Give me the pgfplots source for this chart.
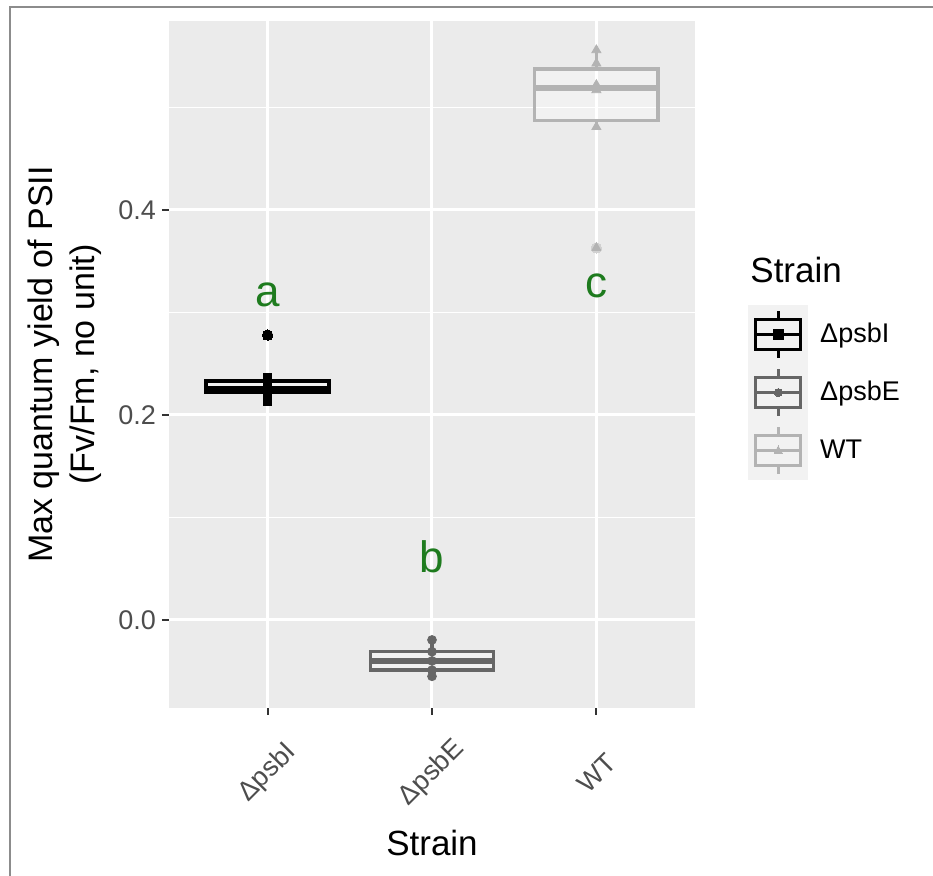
\documentclass[border=0pt]{standalone}
\usepackage{fontspec}
\setmainfont{Liberation Sans}
\usepackage{pgfplots}
\pgfplotsset{compat=1.18}
\usepgfplotslibrary{statistics}
\usepackage{xcolor}
\definecolor{panelbg}{HTML}{EBEBEB}
\definecolor{keybg}{HTML}{F2F2F2}
\definecolor{ticktext}{HTML}{4D4D4D}
\definecolor{tickmark}{HTML}{333333}
\definecolor{framegray}{HTML}{8C8C8C}
\definecolor{strainI}{HTML}{000000}
\definecolor{strainE}{HTML}{666666}
\definecolor{strainWT}{HTML}{B3B3B3}
\definecolor{lettergreen}{HTML}{1E7B1E}

\newcommand{\ticksize}{\fontsize{13.5}{16}\selectfont}

% legend key: colour, mark, mark size
\newcommand{\keyglyph}[3]{%
  \fill[keybg] (0pt,-14.33pt) rectangle (29.5pt,14.33pt);
  \draw[#1, line width=1.5pt] (14.75pt,7.5pt) -- (14.75pt,11.7pt)
                              (14.75pt,-7.5pt) -- (14.75pt,-11.7pt);
  \draw[#1, line width=1.5pt] (3.5pt,-7.5pt) rectangle (26pt,7.5pt);
  \draw[#1, line width=1.5pt] (3.5pt,0pt) -- (26pt,0pt);
  \draw[#1] plot[mark=#2, mark size=#3, mark options={fill=#1, draw=#1, line width=0pt}] coordinates {(14.75pt,0pt)};
}

\begin{document}
\begin{tikzpicture}
\useasboundingbox (0,0) rectangle (466.5pt,438pt);
\draw[framegray, line width=1pt] (5pt,0pt) -- (5pt,434.5pt) -- (466.5pt,434.5pt);

\begin{axis}[
  at={(84.5pt,84pt)}, anchor=south west,
  scale only axis, width=263pt, height=343.5pt,
  xmin=0.4, xmax=3.6, ymin=-0.0859, ymax=0.5844,
  clip=false,
  boxplot/draw direction=y,
  axis background/.style={fill=panelbg},
  axis line style={draw=none},
  xtick={1,2,3},
  xticklabels={ΔpsbI, ΔpsbE, WT},
  ytick={0,0.2,0.4},
  yticklabels={0.0,0.2,0.4},
  minor ytick={0.1,0.3,0.5},
  xmajorgrids, ymajorgrids, yminorgrids,
  major grid style={white, line width=1.5pt},
  minor grid style={white, line width=0.75pt},
  tick align=outside,
  xtick pos=bottom, ytick pos=left,
  major tick length=3.5pt, minor tick length=0pt,
  major tick style={tickmark, line width=1.1pt},
  every tick label/.append style={font=\ticksize, text=ticktext},
  xticklabel style={rotate=45, anchor=center},
  yticklabel style={xshift=0.5pt},
  xticklabel shift=29pt,
  ylabel={Max quantum yield of PSII\\(Fv/Fm, no unit)},
  ylabel style={at={(axis description cs:-0.1977,0.5)}, anchor=center, align=center,
    font=\fontsize{17}{21}\selectfont},
  xlabel={Strain},
  xlabel style={at={(axis description cs:0.5,-0.1965)}, anchor=center,
    font=\fontsize{17.5}{21}\selectfont},
  legend style={at={(axis description cs:1.1008,0.5866)}, anchor=north west,
    draw=none, fill=none, inner sep=0pt, row sep=0pt,
    font=\ticksize, cells={anchor=west},
    /tikz/every odd column/.style={column sep=4pt}},
]

% boxes
\addplot[forget plot, boxplot prepared={draw position=1, box extend=0.75, whisker extend=0,
    lower whisker=0.213, lower quartile=0.222, median=0.225,
    upper quartile=0.2334, upper whisker=0.237,
    every median/.style={line width=3.2pt}},
  draw=strainI, line width=1.8pt, fill=white, fill opacity=0.3,
  mark=*, mark size=2.6pt, mark options={fill=strainI, draw=strainI, fill opacity=1, line width=0pt}]
  table[row sep=\\, y index=0] {data\\ 0.278\\};

\addplot[forget plot, boxplot prepared={draw position=2, box extend=0.75, whisker extend=0,
    lower whisker=-0.055, lower quartile=-0.0488, median=-0.040,
    upper quartile=-0.0309, upper whisker=-0.0195,
    every median/.style={line width=3pt}},
  draw=strainE, line width=1.7pt, fill=white, fill opacity=0.3, mark=none]
  coordinates {};

\addplot[forget plot, boxplot prepared={draw position=3, box extend=0.75, whisker extend=0,
    lower whisker=0.481, lower quartile=0.4871, median=0.5193,
    upper quartile=0.5376, upper whisker=0.556,
    every median/.style={line width=3pt}},
  draw=strainWT, line width=1.7pt, fill=white, fill opacity=0.3,
  mark=*, mark size=2.6pt, mark options={fill=strainWT!60!white, draw=strainWT!60!white, fill opacity=1, line width=0pt}]
  table[row sep=\\, y index=0] {data\\ 0.363\\};

% observations
\addplot[forget plot, only marks, mark=square*, mark size=2pt, strainI]
  coordinates {(1,0.213) (1,0.221) (1,0.224) (1,0.226) (1,0.233) (1,0.237) (1,0.278)};
\addplot[forget plot, only marks, mark=*, mark size=2.2pt, strainE]
  coordinates {(2,-0.0195) (2,-0.031) (2,-0.040) (2,-0.049) (2,-0.055)};
\addplot[forget plot, only marks, mark=triangle*, mark size=2.6pt, strainWT]
  coordinates {(3,0.556) (3,0.543) (3,0.522) (3,0.517) (3,0.481) (3,0.363)};

% letters
\node[anchor=base, text=lettergreen, font=\fontsize{22}{26}\selectfont] at (axis cs:1,0.306) {a};
\node[anchor=base, text=lettergreen, font=\fontsize{22}{26}\selectfont] at (axis cs:2,0.046) {b};
\node[anchor=base, text=lettergreen, font=\fontsize{22}{26}\selectfont] at (axis cs:3,0.315) {c};

% legend
\node[anchor=west, inner sep=0pt, font=\fontsize{17.5}{21}\selectfont] at (axis description cs:1.1046,0.6376) {Strain};
\addlegendimage{legend image code/.code={\keyglyph{strainI}{square*}{2.4pt}}}
\addlegendentry{ΔpsbI}
\addlegendimage{legend image code/.code={\keyglyph{strainE}{*}{2pt}}}
\addlegendentry{ΔpsbE}
\addlegendimage{legend image code/.code={\keyglyph{strainWT}{triangle*}{2.4pt}}}
\addlegendentry{WT}
\end{axis}
\end{tikzpicture}
\end{document}
